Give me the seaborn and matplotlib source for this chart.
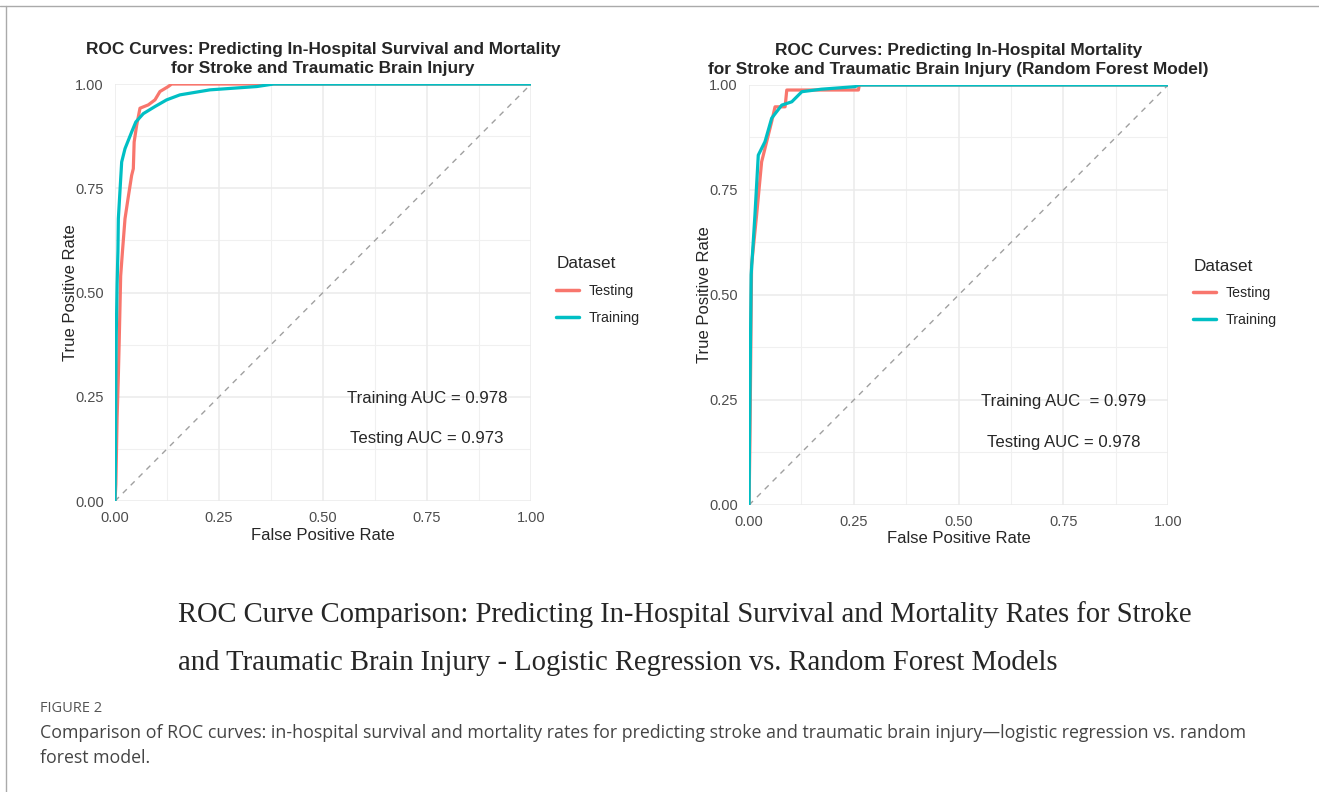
import seaborn as sns
import matplotlib.pyplot as plt
import pandas as pd
from matplotlib.lines import Line2D

# ROC points
lr_test_fpr = [0, 0.002, 0.005, 0.008, 0.010, 0.0136, 0.018, 0.024, 0.032, 0.040, 0.044, 0.046,
               0.052, 0.060, 0.080, 0.096, 0.108, 0.128, 0.136, 1.0]
lr_test_tpr = [0, 0.04, 0.20, 0.30, 0.38, 0.54, 0.60, 0.677, 0.73, 0.781, 0.797, 0.861,
               0.901, 0.942, 0.950, 0.962, 0.982, 0.994, 1.0, 1.0]
lr_train_fpr = [0, 0.001, 0.002, 0.003, 0.005, 0.007, 0.008, 0.016, 0.024, 0.040, 0.050, 0.068,
                0.096, 0.124, 0.156, 0.228, 0.341, 0.381, 1.0]
lr_train_tpr = [0, 0.10, 0.30, 0.40, 0.52, 0.60, 0.677, 0.813, 0.845, 0.885, 0.909, 0.929,
                0.946, 0.962, 0.974, 0.986, 0.994, 1.0, 1.0]

rf_test_fpr = [0, 0.002, 0.004, 0.006, 0.018, 0.030, 0.042, 0.054, 0.062, 0.086, 0.090,
               0.261, 0.263, 1.0]
rf_test_tpr = [0, 0.15, 0.35, 0.571, 0.69, 0.817, 0.865, 0.913, 0.948, 0.948, 0.988,
               0.988, 1.0, 1.0]
rf_train_fpr = [0, 0.001, 0.003, 0.005, 0.014, 0.022, 0.038, 0.054, 0.078, 0.102, 0.126,
                0.173, 0.253, 0.261, 1.0]
rf_train_tpr = [0, 0.15, 0.35, 0.548, 0.69, 0.833, 0.865, 0.921, 0.952, 0.960, 0.984,
                0.990, 0.996, 1.0, 1.0]

datasets = ['Testing', 'Training']
palette = {'Testing': '#F8766D', 'Training': '#00BFC4'}
ticks = [0, 0.25, 0.5, 0.75, 1.0]
tick_labels = ['0.00', '0.25', '0.50', '0.75', '1.00']

left_title = 'ROC Curves: Predicting In-Hospital Survival and Mortality\nfor Stroke and Traumatic Brain Injury'
right_title = 'ROC Curves: Predicting In-Hospital Mortality\nfor Stroke and Traumatic Brain Injury (Random Forest Model)'
left_auc = ['Training AUC = 0.978', 'Testing AUC = 0.973']
right_auc = ['Training AUC  = 0.979', 'Testing AUC = 0.978']


def roc_frame(test_fpr, test_tpr, train_fpr, train_tpr):
    return pd.concat([
        pd.DataFrame({'fpr': test_fpr, 'tpr': test_tpr, 'Dataset': 'Testing'}),
        pd.DataFrame({'fpr': train_fpr, 'tpr': train_tpr, 'Dataset': 'Training'}),
    ], ignore_index=True)


def draw_roc(ax, df, title, auc_text):
    for v in [0.125, 0.375, 0.625, 0.875]:
        ax.axhline(v, color='#F0F0F0', lw=0.8, zorder=0)
        ax.axvline(v, color='#F0F0F0', lw=0.8, zorder=0)
    for v in ticks:
        ax.axhline(v, color='#EBEBEB', lw=1.1, zorder=0)
        ax.axvline(v, color='#EBEBEB', lw=1.1, zorder=0)
    ax.plot([0, 1], [0, 1], ls=(0, (4, 4)), color='#A0A0A0', lw=1.0, zorder=1)
    sns.lineplot(data=df, x='fpr', y='tpr', hue='Dataset', hue_order=datasets,
                 palette=palette, sort=False, estimator=None, lw=2.3, ax=ax, zorder=2)
    ax.set_xlim(0, 1)
    ax.set_ylim(0, 1)
    ax.set_xticks(ticks)
    ax.set_yticks(ticks)
    ax.set_xticklabels(tick_labels)
    ax.set_yticklabels(tick_labels)
    ax.tick_params(length=0, labelsize=10.5, labelcolor='#4D4D4D')
    ax.tick_params(axis='x', pad=7)
    ax.tick_params(axis='y', pad=8)
    for s in ax.spines.values():
        s.set_visible(False)
    ax.grid(False)
    ax.set_xlabel('False Positive Rate', fontsize=12, labelpad=2)
    ax.set_ylabel('True Positive Rate', fontsize=12, labelpad=-2)
    ax.set_title(title, fontsize=12.4, fontweight='bold', linespacing=1.3, pad=8)
    ax.text(0.75, 0.247, auc_text[0], ha='center', va='center', fontsize=12.1)
    ax.text(0.75, 0.149, auc_text[1], ha='center', va='center', fontsize=12.1)
    handles = [Line2D([], [], color=palette[d], lw=2.5) for d in datasets]
    ax.legend(handles, datasets, title='Dataset', loc='center left',
              bbox_to_anchor=(1.03, 0.505), frameon=False, fontsize=10.2,
              title_fontsize=12.3, handlelength=1.6, handletextpad=0.7,
              labelspacing=0.9, alignment='left')


sns.set_theme(style='white')
plt.rcParams['font.family'] = ['Liberation Sans', 'DejaVu Sans']

fig = plt.figure(figsize=(13.19, 7.92), dpi=100)
ax1 = fig.add_axes([0.0872, 0.3674, 0.3154, 0.5265])
ax2 = fig.add_axes([0.5679, 0.3624, 0.3177, 0.5303])

draw_roc(ax1, roc_frame(lr_test_fpr, lr_test_tpr, lr_train_fpr, lr_train_tpr), left_title, left_auc)
draw_roc(ax2, roc_frame(rf_test_fpr, rf_test_tpr, rf_train_fpr, rf_train_tpr), right_title, right_auc)

fig.text(178 / 1319, 1 - 615 / 792,
         'ROC Curve Comparison: Predicting In-Hospital Survival and Mortality Rates for Stroke',
         family='Liberation Serif', fontsize=20.6, va='center', ha='left')
fig.text(178 / 1319, 1 - 663 / 792,
         'and Traumatic Brain Injury - Logistic Regression vs. Random Forest Models',
         family='Liberation Serif', fontsize=20.6, va='center', ha='left')

fig.text(40 / 1319, 1 - 709 / 792, 'FIGURE 2', family='Open Sans', fontsize=10.5,
         color='#555555', va='center', ha='left')
fig.text(40 / 1319, 1 - 733 / 792,
         'Comparison of ROC curves: in-hospital survival and mortality rates for predicting stroke '
         'and traumatic brain injury\u2014logistic regression vs. random',
         family='Open Sans', fontsize=12.75, color='#444444', va='center', ha='left')
fig.text(40 / 1319, 1 - 758 / 792, 'forest model.', family='Open Sans', fontsize=12.75,
         color='#444444', va='center', ha='left')

# page border lines
fig.add_artist(Line2D([0, 1], [1 - 6 / 792, 1 - 6 / 792], color='#AAAAAA', lw=1.0))
fig.add_artist(Line2D([6 / 1319, 6 / 1319], [0, 1 - 6 / 792], color='#AAAAAA', lw=1.0))

fig.savefig('out.png', dpi=100)
